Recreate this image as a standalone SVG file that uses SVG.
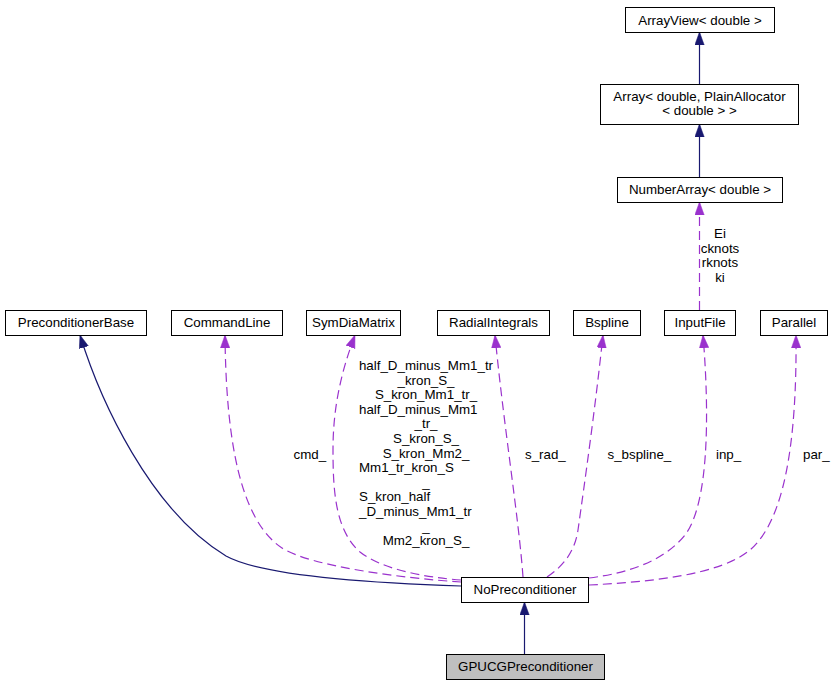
<svg xmlns="http://www.w3.org/2000/svg" width="835" height="685" viewBox="0 0 835 685">
<style>
text{font-family:"Liberation Sans",Arial,sans-serif;font-size:13.33px;fill:#000}
.c{text-anchor:middle}
.box{fill:#fff;stroke:#000;stroke-width:1}
.grey{fill:#bfbfbf}
.inh{fill:none;stroke:#191970;stroke-width:1.2}
.use{fill:none;stroke:#9a32cd;stroke-width:1.2;stroke-dasharray:9,5}
.inhm{marker-end:url(#ah)}
.usem{marker-end:url(#ap)}
</style>
<defs>
<marker id="ah" markerUnits="userSpaceOnUse" markerWidth="14" markerHeight="10" refX="13" refY="4.7" orient="auto">
<path d="M0,0 L13,4.7 L0,9.4 z" fill="#191970" stroke="#191970" stroke-width="0.5"/>
</marker>
<marker id="ap" markerUnits="userSpaceOnUse" markerWidth="14" markerHeight="10" refX="13" refY="4.7" orient="auto">
<path d="M0,0 L13,4.7 L0,9.4 z" fill="#9a32cd" stroke="#9a32cd" stroke-width="0.5"/>
</marker>
</defs>
<rect width="835" height="685" fill="#fff"/>
<g id="edges">
<path class="inh inhm" d="M699.5,84 L699.5,32"/>
<path class="inh inhm" d="M699.5,177 L699.5,124"/>
<path class="use usem" d="M699.5,310 L699.5,202"/>
<path class="inh inhm" d="M461,586 C370,583 262,576 226,556 C150,510 100,400 80,335"/>
<path class="use usem" d="M461,582 C400,578 310,566 282,548 C240,520 226,440 225,335"/>
<path class="use usem" d="M461,580 C420,577 380,568 360,552 C335,530 333,490 333,450 C333,410 340,375 355,335"/>
<path class="use usem" d="M523,577 C519,520 503,420 495,335"/>
<path class="use usem" d="M547,577 C565,565 575,550 578,530 C585,480 595,410 603,335"/>
<path class="use usem" d="M589,578 C630,573 665,560 685,535 C708,505 710,420 703,335"/>
<path class="use usem" d="M589,585 C650,582 720,575 750,550 C785,520 797,440 796,335"/>
<path class="inh inhm" d="M524.5,654 L524.5,602"/>
<text class="c" x="720" y="238">Ei</text>
<text class="c" x="720" y="252.5">cknots</text>
<text class="c" x="720" y="267">rknots</text>
<text class="c" x="720" y="281.5">ki</text>
<text x="293.5" y="459">cmd_</text>
<text class="c" x="426" y="370">half_D_minus_Mm1_tr</text>
<text class="c" x="426" y="384.6">_kron_S_</text>
<text class="c" x="426" y="399.2">S_kron_Mm1_tr_</text>
<text x="359" y="413.8">half_D_minus_Mm1</text>
<text class="c" x="426" y="428.4">_tr_</text>
<text class="c" x="426" y="443">S_kron_S_</text>
<text class="c" x="426" y="457.6">S_kron_Mm2_</text>
<text x="359" y="472.2">Mm1_tr_kron_S</text>
<text class="c" x="426" y="486.8">_</text>
<text x="359" y="501.4">S_kron_half</text>
<text x="359" y="516">_D_minus_Mm1_tr</text>
<text class="c" x="426" y="530.6">_</text>
<text class="c" x="426" y="545.2">Mm2_kron_S_</text>
<text x="525" y="459">s_rad_</text>
<text x="607.5" y="459">s_bspline_</text>
<text x="716" y="459">inp_</text>
<text x="803" y="459">par_</text>
</g>
<g id="ArrayView">
<rect class="box" x="625.5" y="7.5" width="149" height="25"/>
<text class="c" x="700" y="24.5">ArrayView&lt; double &gt;</text>
</g>
<g id="Array">
<rect class="box" x="600.5" y="84.5" width="198" height="40"/>
<text class="c" x="699.5" y="100.5">Array&lt; double, PlainAllocator</text>
<text class="c" x="699.5" y="115">&lt; double &gt; &gt;</text>
</g>
<g id="NumberArray">
<rect class="box" x="617.5" y="177.5" width="165" height="25"/>
<text class="c" x="700" y="194">NumberArray&lt; double &gt;</text>
</g>
<g id="PreconditionerBase">
<rect class="box" x="5.5" y="310.5" width="141" height="25"/>
<text class="c" x="76" y="327">PreconditionerBase</text>
</g>
<g id="CommandLine">
<rect class="box" x="171.5" y="310.5" width="111" height="25"/>
<text class="c" x="227" y="327">CommandLine</text>
</g>
<g id="SymDiaMatrix">
<rect class="box" x="306.5" y="310.5" width="94" height="25"/>
<text class="c" x="353.5" y="327">SymDiaMatrix</text>
</g>
<g id="RadialIntegrals">
<rect class="box" x="437.5" y="310.5" width="112" height="25"/>
<text class="c" x="493.5" y="327">RadialIntegrals</text>
</g>
<g id="Bspline">
<rect class="box" x="573.5" y="310.5" width="67" height="25"/>
<text class="c" x="607" y="327">Bspline</text>
</g>
<g id="InputFile">
<rect class="box" x="664.5" y="310.5" width="71" height="25"/>
<text class="c" x="700" y="327">InputFile</text>
</g>
<g id="Parallel">
<rect class="box" x="760.5" y="310.5" width="67" height="25"/>
<text class="c" x="794" y="327">Parallel</text>
</g>
<g id="NoPreconditioner">
<rect class="box" x="461.5" y="577.5" width="127" height="25"/>
<text class="c" x="525" y="594">NoPreconditioner</text>
</g>
<g id="GPUCGPreconditioner">
<rect class="box grey" x="446.5" y="654.5" width="158" height="25"/>
<text class="c" x="525.5" y="671">GPUCGPreconditioner</text>
</g>
</svg>
